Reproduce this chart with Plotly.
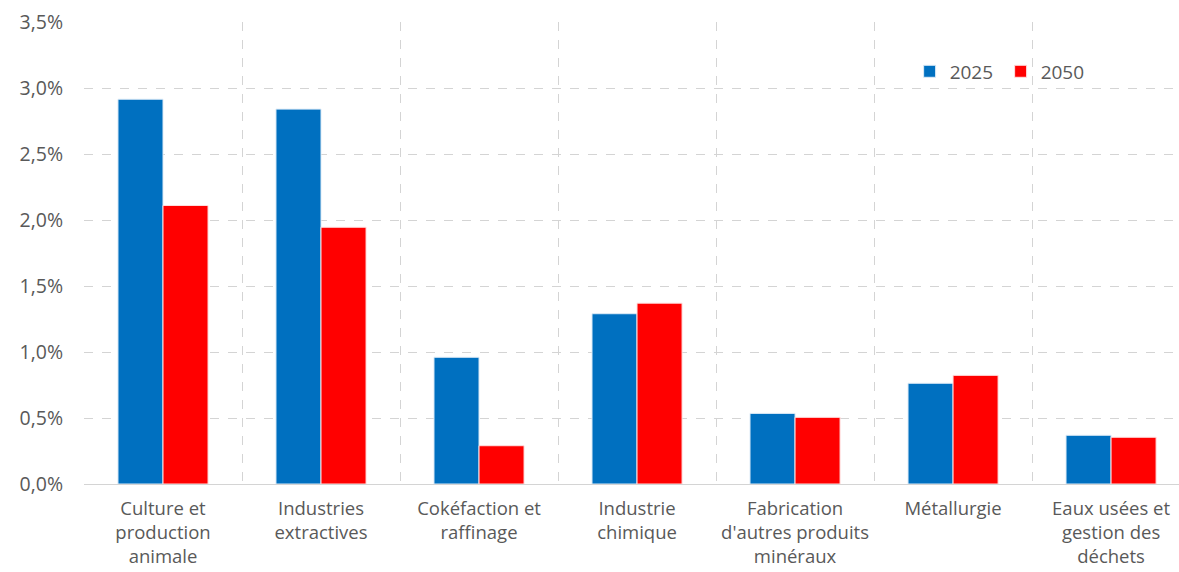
import plotly.graph_objects as go

# Sector shares (%), 2025 vs 2050
categories = [
    "Culture et<br>production<br>animale",
    "Industries<br>extractives",
    "Cokéfaction et<br>raffinage",
    "Industrie<br>chimique",
    "Fabrication<br>d'autres produits<br>minéraux",
    "Métallurgie",
    "Eaux usées et<br>gestion des<br>déchets",
]
values_2025 = [2.915, 2.84, 0.96, 1.29, 0.535, 0.763, 0.369]
values_2050 = [2.11, 1.945, 0.29, 1.37, 0.505, 0.823, 0.354]
y_ticks = [0, 0.5, 1.0, 1.5, 2.0, 2.5, 3.0, 3.5]
y_tick_labels = ["0,0%", "0,5%", "1,0%", "1,5%", "2,0%", "2,5%", "3,0%", "3,5%"]

font_family = "Open Sans, Noto Sans, sans-serif"
text_color = "#595959"
grid_color = "#D4D4D4"

fig = go.Figure()
fig.add_trace(go.Bar(
    name="2025", x=categories, y=values_2025,
    marker=dict(color="#0070C0", line=dict(color="#DDEBF7", width=1)),
))
fig.add_trace(go.Bar(
    name="2050", x=categories, y=values_2050,
    marker=dict(color="#FF0000", line=dict(color="#FFE0E0", width=1)),
))

fig.update_layout(
    width=1179, height=572,
    margin=dict(l=84, r=0, t=22, b=88),
    paper_bgcolor="white", plot_bgcolor="white",
    barmode="group", bargap=0.43, bargroupgap=0,
    font=dict(family=font_family, size=17, color=text_color),
    legend=dict(
        orientation="h", x=0.754, y=0.893, xanchor="left", yanchor="middle",
        font=dict(size=19, color=text_color), bgcolor="rgba(0,0,0,0)",
        itemwidth=30, traceorder="normal", entrywidth=46,
    ),
    showlegend=True,
)
fig.update_xaxes(
    type="category", range=[-0.5, 6.43],
    tickson="boundaries", ticks="", showgrid=True,
    gridcolor=grid_color, griddash="dash", gridwidth=1,
    showline=False, ticklabelstandoff=11,
    tickfont=dict(size=18.5, color=text_color),
)
fig.update_yaxes(
    range=[0, 3.5], tickvals=y_ticks, ticktext=y_tick_labels,
    showgrid=True, gridcolor=grid_color, griddash="dash", gridwidth=1,
    zeroline=True, zerolinecolor=grid_color, zerolinewidth=1,
    showline=False, ticks="", ticklabelstandoff=20,
    tickfont=dict(size=19.5, color=text_color),
)

fig.write_html("out.html")
